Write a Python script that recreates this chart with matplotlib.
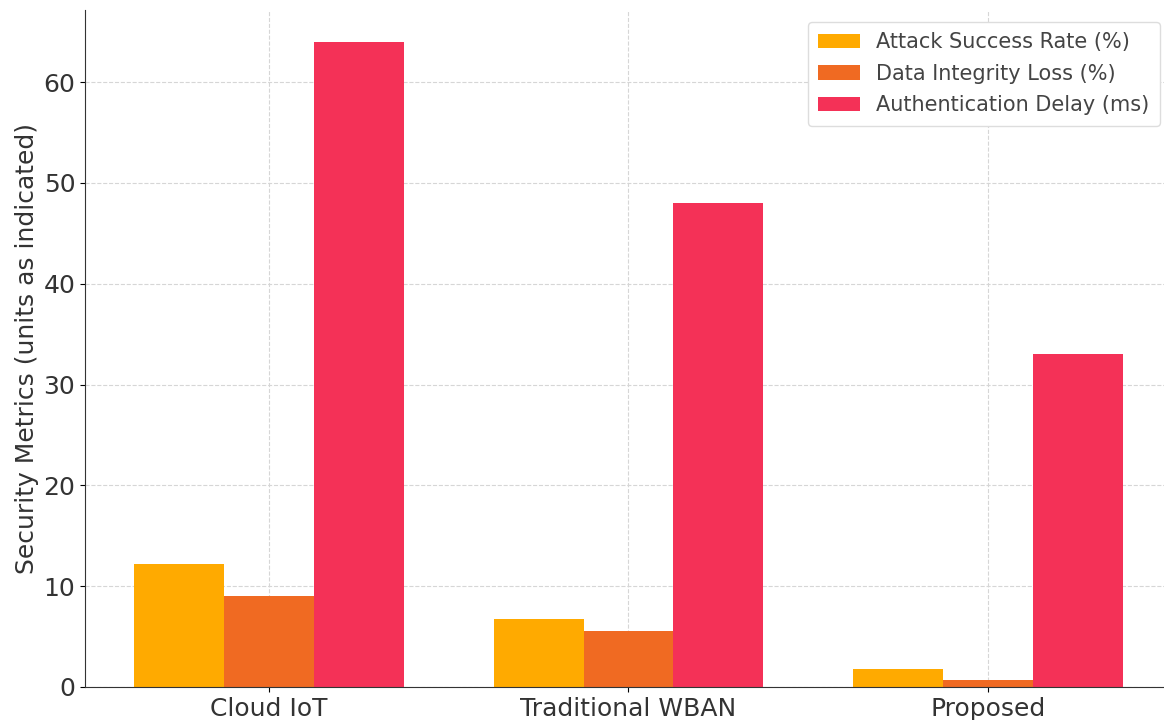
import numpy as np
import matplotlib
matplotlib.use("Agg")
import matplotlib.pyplot as plt

categories = ["Cloud IoT", "Traditional WBAN", "Proposed"]
attack_success = [12.2, 6.7, 1.8]
integrity_loss = [9.0, 5.6, 0.65]
auth_delay = [64.0, 48.0, 33.0]
series_labels = ["Attack Success Rate (%)", "Data Integrity Loss (%)", "Authentication Delay (ms)"]
colors = ["#FFAA00", "#F06A22", "#F43157"]

fig = plt.figure(figsize=(11.64, 7.2), dpi=100)
ax = fig.add_axes([85 / 1164, 33 / 720, (1172 - 85) / 1164, (687 - 9.6) / 720])

x = np.arange(len(categories))
width = 0.25
for i, (vals, lab, col) in enumerate(zip([attack_success, integrity_loss, auth_delay], series_labels, colors)):
    ax.bar(x + (i - 1) * width, vals, width, label=lab, color=col, zorder=2)

ax.set_xticks(x)
ax.set_xticklabels(categories, fontsize=18, color="#333333")
ax.tick_params(axis="y", labelsize=18, labelcolor="#333333")
ax.tick_params(axis="x", pad=4)
ax.set_ylabel("Security Metrics (units as indicated)", fontsize=18, color="#333333", labelpad=3)
ax.grid(True, linestyle="--", color="#d6d6d6", linewidth=0.8, zorder=0)
ax.set_axisbelow(True)
for s in ["top", "right"]:
    ax.spines[s].set_visible(False)
ax.spines["left"].set_color("#333333")
ax.spines["bottom"].set_color("#333333")

ax.legend(loc="upper right", bbox_to_anchor=(1160 / 1164, 1 - 22 / 720),
          bbox_transform=fig.transFigure, borderaxespad=0, fontsize=15,
          labelcolor="#444444", framealpha=1, edgecolor="#dddddd",
          borderpad=0.5, labelspacing=0.55)

fig.savefig("out.png", dpi=100)
